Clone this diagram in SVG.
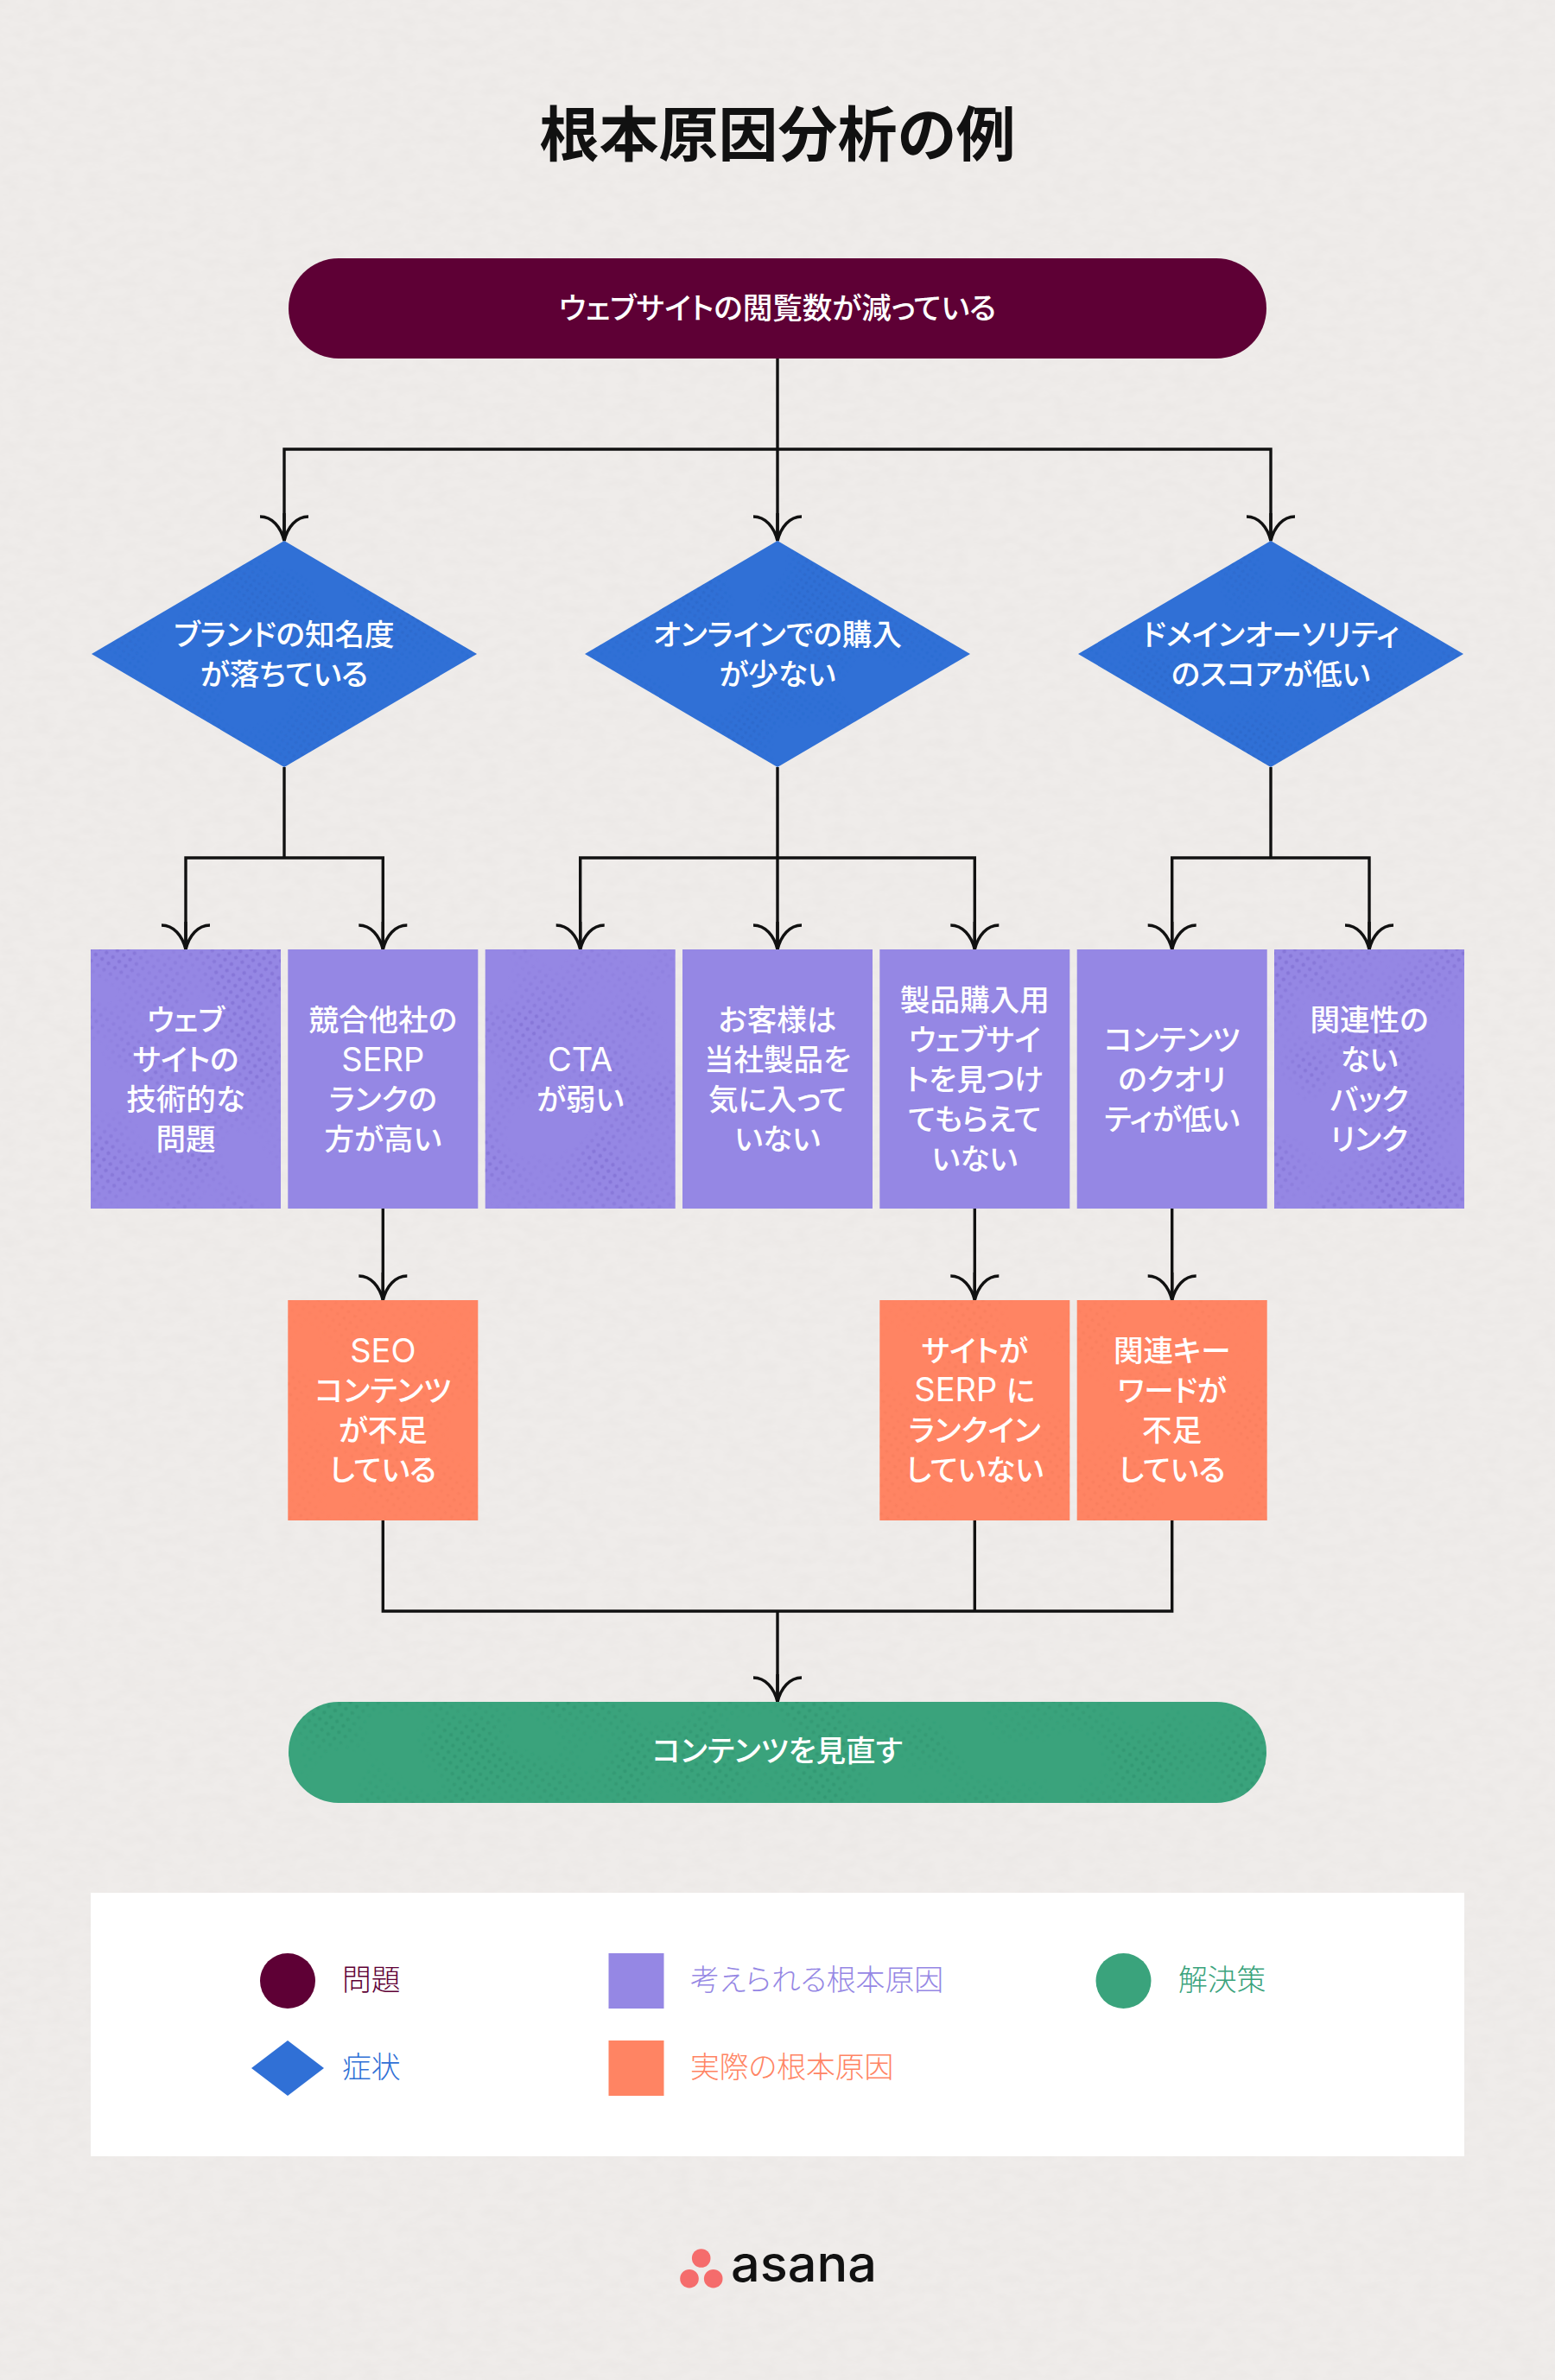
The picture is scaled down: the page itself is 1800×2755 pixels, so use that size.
<svg xmlns="http://www.w3.org/2000/svg" width="1800" height="2755" viewBox="0 0 1800 2755">
<style>
text{font-family:"Inter","Noto Sans CJK JP",sans-serif;font-feature-settings:"palt";text-anchor:middle}
.title{font-size:69px;font-weight:700;fill:#111;font-family:"Noto Sans CJK JP",sans-serif}
.n{font-size:34.6px;font-weight:500;fill:#fff}
.lat{font-size:38px;font-weight:400}
.l{font-size:33.8px;font-weight:300;text-anchor:start}
.c{fill:none;stroke:#111;stroke-width:3.4}
.a{marker-end:url(#arrow)}
.maroon{fill:#5e0035}.blue{fill:#3070d6}.purple{fill:#9587e4}.orange{fill:#ff8463}.green{fill:#3aa37c}
</style>
<defs>
<marker id="arrow" markerUnits="userSpaceOnUse" viewBox="-32 -32 34 64" refX="0" refY="0" markerWidth="34" markerHeight="64" orient="auto">
<path d="M-28,-28 C-28,-14 -16,-4 0,0 C-16,4 -28,14 -28,28 M-32,0H0" fill="none" stroke="#111" stroke-width="3.4"/>
</marker>
<filter id="paper" x="0" y="0" width="100%" height="100%">
<feTurbulence type="fractalNoise" baseFrequency="0.05 0.09" numOctaves="3" seed="4"/>
<feColorMatrix values="0 0 0 0 0.55 0 0 0 0 0.52 0 0 0 0 0.5 0.14 0 0 0 -0.045"/>
</filter>
<filter id="blotch" x="0" y="0" width="100%" height="100%">
<feTurbulence type="fractalNoise" baseFrequency="0.012" numOctaves="2" seed="7" result="t"/>
<feColorMatrix in="t" values="0 0 0 0 0 0 0 0 0 0 0 0 0 0 0 3.5 0 0 0 -1.4" result="m"/>
<feComposite in="SourceGraphic" in2="m" operator="in"/>
</filter>
<pattern id="dotP" width="9" height="9" patternUnits="userSpaceOnUse" patternTransform="rotate(35)"><circle cx="4.5" cy="4.5" r="2.2" fill="#7766cc" opacity=".5"/></pattern>
<pattern id="dotG" width="9" height="9" patternUnits="userSpaceOnUse" patternTransform="rotate(35)"><circle cx="4.5" cy="4.5" r="2.2" fill="#2b8a66" opacity=".4"/></pattern>
<pattern id="dotB" width="7" height="7" patternUnits="userSpaceOnUse" patternTransform="rotate(35)"><circle cx="3.5" cy="3.5" r="2" fill="#2259b4" opacity=".25"/></pattern>
<pattern id="dotO" width="9" height="9" patternUnits="userSpaceOnUse" patternTransform="rotate(35)"><circle cx="4.5" cy="4.5" r="2" fill="#ea6c4c" opacity=".22"/></pattern>
</defs>
<rect width="1800" height="2755" fill="#efecea"/>
<rect width="1800" height="2755" filter="url(#paper)"/>
<text class="title" x="900" y="181">根本原因分析の例</text>
<g id="connectors" class="c">
<path class="a" d="M900,415V626"/>
<path class="a" d="M900,520H329V626"/>
<path class="a" d="M900,520H1471V626"/>
<path d="M329,888V993"/>
<path class="a" d="M329,993H215V1099"/>
<path class="a" d="M329,993H443.3V1099"/>
<path class="a" d="M900,888V1099"/>
<path class="a" d="M900,993H671.7V1099"/>
<path class="a" d="M900,993H1128.3V1099"/>
<path d="M1471,888V993"/>
<path class="a" d="M1471,993H1356.7V1099"/>
<path class="a" d="M1471,993H1585V1099"/>
<path class="a" d="M443.3,1399V1505"/>
<path class="a" d="M1128.3,1399V1505"/>
<path class="a" d="M1356.7,1399V1505"/>
<path d="M443.3,1760V1865H1356.7V1760"/>
<path d="M1128.3,1760V1865"/>
<path class="a" d="M900,1865V1970"/>
</g>
<g id="problem"><rect class="maroon" x="334" y="299" width="1132" height="116" rx="58"/><text class="n" x="900" y="369">ウェブサイトの閲覧数が減っている</text></g>
<g id="symptom1"><polygon class="blue" points="329,626 552,757 329,888 106,757"/><polygon fill="url(#dotB)" filter="url(#blotch)" points="329,626 552,757 329,888 106,757"/><text class="n" x="329" y="747">ブランドの知名度</text><text class="n" x="329" y="793">が落ちている</text></g>
<g id="symptom2"><polygon class="blue" points="900,626 1123,757 900,888 677,757"/><polygon fill="url(#dotB)" filter="url(#blotch)" points="900,626 1123,757 900,888 677,757"/><text class="n" x="900" y="747">オンラインでの購入</text><text class="n" x="900" y="793">が少ない</text></g>
<g id="symptom3"><polygon class="blue" points="1471,626 1694,757 1471,888 1248,757"/><polygon fill="url(#dotB)" filter="url(#blotch)" points="1471,626 1694,757 1471,888 1248,757"/><text class="n" x="1471" y="747">ドメインオーソリティ</text><text class="n" x="1471" y="793">のスコアが低い</text></g>
<g id="cause1"><rect class="purple" x="105" y="1099" width="220" height="300"/><rect fill="url(#dotP)" filter="url(#blotch)" x="105" y="1099" width="220" height="300"/><text class="n" x="215" y="1193">ウェブ</text><text class="n" x="215" y="1239">サイトの</text><text class="n" x="215" y="1285">技術的な</text><text class="n" x="215" y="1331">問題</text></g>
<g id="cause2"><rect class="purple" x="333.3" y="1099" width="220" height="300"/><text class="n" x="443.3" y="1193">競合他社の</text><text class="n lat" x="443.3" y="1240">SERP</text><text class="n" x="443.3" y="1285">ランクの</text><text class="n" x="443.3" y="1331">方が高い</text></g>
<g id="cause3"><rect class="purple" x="561.7" y="1099" width="220" height="300"/><rect fill="url(#dotP)" filter="url(#blotch)" x="561.7" y="1099" width="220" height="300"/><text class="n lat" x="671.7" y="1240">CTA</text><text class="n" x="671.7" y="1285">が弱い</text></g>
<g id="cause4"><rect class="purple" x="790" y="1099" width="220" height="300"/><text class="n" x="900" y="1193">お客様は</text><text class="n" x="900" y="1239">当社製品を</text><text class="n" x="900" y="1285">気に入って</text><text class="n" x="900" y="1331">いない</text></g>
<g id="cause5"><rect class="purple" x="1018.3" y="1099" width="220" height="300"/><text class="n" x="1128.3" y="1170">製品購入用</text><text class="n" x="1128.3" y="1216">ウェブサイ</text><text class="n" x="1128.3" y="1262">トを見つけ</text><text class="n" x="1128.3" y="1308">てもらえて</text><text class="n" x="1128.3" y="1354">いない</text></g>
<g id="cause6"><rect class="purple" x="1246.7" y="1099" width="220" height="300"/><text class="n" x="1356.7" y="1216">コンテンツ</text><text class="n" x="1356.7" y="1262">のクオリ</text><text class="n" x="1356.7" y="1308">ティが低い</text></g>
<g id="cause7"><rect class="purple" x="1475" y="1099" width="220" height="300"/><rect fill="url(#dotP)" filter="url(#blotch)" x="1475" y="1099" width="220" height="300"/><text class="n" x="1585" y="1193">関連性の</text><text class="n" x="1585" y="1239">ない</text><text class="n" x="1585" y="1285">バック</text><text class="n" x="1585" y="1331">リンク</text></g>
<g id="actual1"><rect class="orange" x="333.3" y="1505" width="220" height="255"/><rect fill="url(#dotO)" filter="url(#blotch)" x="333.3" y="1505" width="220" height="255"/><text class="n lat" x="443.3" y="1577">SEO</text><text class="n" x="443.3" y="1622">コンテンツ</text><text class="n" x="443.3" y="1668">が不足</text><text class="n" x="443.3" y="1714">している</text></g>
<g id="actual2"><rect class="orange" x="1018.3" y="1505" width="220" height="255"/><rect fill="url(#dotO)" filter="url(#blotch)" x="1018.3" y="1505" width="220" height="255"/><text class="n" x="1128.3" y="1576">サイトが</text><text class="n" x="1128.3" y="1622"><tspan class="lat">SERP </tspan>に</text><text class="n" x="1128.3" y="1668">ランクイン</text><text class="n" x="1128.3" y="1714">していない</text></g>
<g id="actual3"><rect class="orange" x="1246.7" y="1505" width="220" height="255"/><rect fill="url(#dotO)" filter="url(#blotch)" x="1246.7" y="1505" width="220" height="255"/><text class="n" x="1356.7" y="1576">関連キー</text><text class="n" x="1356.7" y="1622">ワードが</text><text class="n" x="1356.7" y="1668">不足</text><text class="n" x="1356.7" y="1714">している</text></g>
<g id="solution"><rect class="green" x="334" y="1970" width="1132" height="117" rx="58"/><rect fill="url(#dotG)" filter="url(#blotch)" x="334" y="1970" width="1132" height="117" rx="58"/><text class="n" x="900" y="2039">コンテンツを見直す</text></g>
<g id="legend">
<rect x="105" y="2191" width="1590" height="305" fill="#fff"/>
<circle class="maroon" cx="333" cy="2293" r="32"/><text class="l maroon" x="396" y="2304">問題</text>
<polygon class="blue" points="333,2362 375,2394 333,2426 291,2394"/><text class="l blue" x="396" y="2405">症状</text>
<rect class="purple" x="704.5" y="2261" width="64" height="64"/><text class="l purple" x="799" y="2304">考えられる根本原因</text>
<rect class="orange" x="704.5" y="2362" width="64" height="64"/><text class="l orange" x="799" y="2405">実際の根本原因</text>
<circle class="green" cx="1300.5" cy="2293" r="32"/><text class="l green" x="1364" y="2304">解決策</text>
</g>
<g id="logo">
<circle cx="811.7" cy="2614" r="10.8" fill="#f56c6c"/><circle cx="798" cy="2637.7" r="10.8" fill="#f56c6c"/><circle cx="825.7" cy="2637.7" r="10.8" fill="#f56c6c"/>
<text x="846" y="2641" textLength="169" lengthAdjust="spacingAndGlyphs" style="text-anchor:start;font-family:Inter,sans-serif;font-size:58px;font-weight:500;fill:#111">asana</text>
</g>
</svg>
